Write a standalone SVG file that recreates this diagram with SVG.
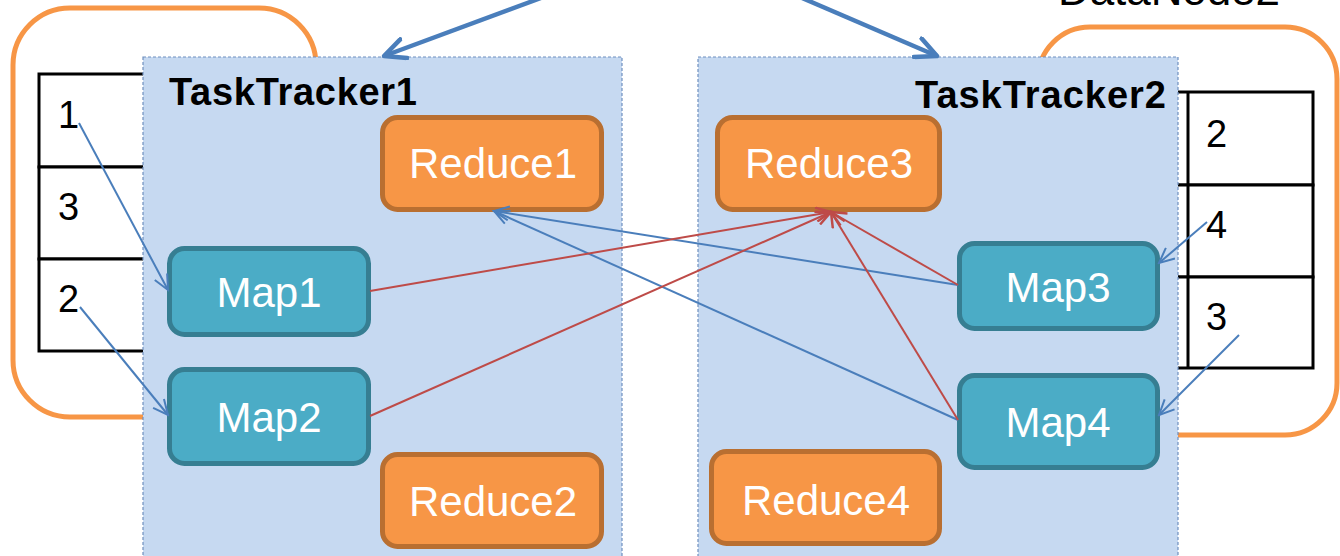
<svg xmlns="http://www.w3.org/2000/svg" width="1340" height="556" viewBox="0 0 1340 556">
  <style>
    .datanode { fill: #ffffff; stroke: #F79646; stroke-width: 5; }
    .cell { fill: #ffffff; stroke: #000000; stroke-width: 3; }
    .num { font-family: "Liberation Sans", Arial, sans-serif; font-size: 38px; fill: #000000; }
    .panel { fill: #C6D9F1; stroke: #6F8FBF; stroke-width: 1.2; stroke-dasharray: 3 2; }
    .tt { font-family: "Liberation Sans", Arial, sans-serif; font-size: 38px; font-weight: bold; fill: #000000; }
    .map rect { fill: #4BACC6; stroke: #367E92; stroke-width: 5; }
    .reduce rect { fill: #F79646; stroke: #B96F31; stroke-width: 5; }
    .label { font-family: "Liberation Sans", Arial, sans-serif; font-size: 42px; fill: #ffffff; text-anchor: middle; }
    .blue { stroke: #4A7EBB; stroke-width: 2; fill: none; marker-end: url(#headBlue); }
    .red { stroke: #BE4B48; stroke-width: 2; fill: none; marker-end: url(#headRed); }
    .thick { stroke: #4A7EBB; stroke-width: 4.5; fill: none; marker-end: url(#headThick); }
    .caption { font-family: "Liberation Sans", Arial, sans-serif; font-size: 44px; fill: #000000; }
  </style>
  <defs>
    <marker id="headBlue" markerUnits="userSpaceOnUse" viewBox="0 0 18 16" refX="16" refY="8" markerWidth="18" markerHeight="16" orient="auto">
      <path d="M1,1 L16,8 L1,15" fill="none" stroke="#4A7EBB" stroke-width="2"/>
    </marker>
    <marker id="headRed" markerUnits="userSpaceOnUse" viewBox="0 0 18 16" refX="16" refY="8" markerWidth="18" markerHeight="16" orient="auto">
      <path d="M1,1 L16,8 L1,15" fill="none" stroke="#BE4B48" stroke-width="2.5"/>
    </marker>
    <marker id="headThick" markerUnits="userSpaceOnUse" viewBox="0 0 26 24" refX="23" refY="12" markerWidth="26" markerHeight="24" orient="auto">
      <path d="M2,2 L23,12 L2,22" fill="none" stroke="#4A7EBB" stroke-width="4.5" stroke-linecap="round" stroke-linejoin="round"/>
    </marker>
  </defs>

  <!-- data node caption, clipped by the top edge -->
  <text class="caption" x="1058" y="5" textLength="222">DataNode2</text>

  <!-- data node 1 with its blocks -->
  <g id="datanode1">
    <rect class="datanode" x="13" y="8" width="303" height="409" rx="57"/>
    <rect class="cell" x="39" y="74" width="130" height="93"/>
    <rect class="cell" x="39" y="167" width="130" height="92"/>
    <rect class="cell" x="39" y="259" width="130" height="92"/>
    <text class="num" x="58" y="128">1</text>
    <text class="num" x="58" y="220">3</text>
    <text class="num" x="58" y="312">2</text>
  </g>

  <!-- data node 2 with its blocks -->
  <g id="datanode2">
    <rect class="datanode" x="1038" y="27" width="299" height="408" rx="52"/>
    <rect class="cell" x="1150" y="92" width="163" height="93"/>
    <rect class="cell" x="1150" y="185" width="163" height="92"/>
    <rect class="cell" x="1150" y="277" width="163" height="91"/>
    <line x1="1188" y1="92" x2="1188" y2="368" stroke="#000" stroke-width="3"/>
    <text class="num" x="1206" y="147">2</text>
    <text class="num" x="1206" y="238">4</text>
    <text class="num" x="1206" y="330">3</text>
  </g>

  <!-- task trackers -->
  <g id="tasktracker1">
    <rect class="panel" x="143" y="57" width="479" height="520"/>
    <text class="tt" x="169" y="105" textLength="248">TaskTracker1</text>
  </g>
  <g id="tasktracker2">
    <rect class="panel" x="698" y="57" width="480" height="520"/>
    <text class="tt" x="915" y="108" textLength="251">TaskTracker2</text>
  </g>

  <!-- tasks -->
  <g id="reduce1" class="reduce">
    <rect x="382.5" y="117.5" width="219" height="92" rx="15"/>
    <text class="label" x="493" y="178">Reduce1</text>
  </g>
  <g id="reduce2" class="reduce">
    <rect x="382.5" y="454.5" width="219" height="92" rx="15"/>
    <text class="label" x="493" y="516">Reduce2</text>
  </g>
  <g id="reduce3" class="reduce">
    <rect x="717.5" y="117.5" width="222" height="92" rx="15"/>
    <text class="label" x="829" y="178">Reduce3</text>
  </g>
  <g id="reduce4" class="reduce">
    <rect x="711.5" y="451.5" width="228" height="92" rx="15"/>
    <text class="label" x="826" y="515">Reduce4</text>
  </g>
  <g id="map1" class="map">
    <rect x="169.5" y="248.5" width="199" height="86" rx="15"/>
    <text class="label" x="269" y="307">Map1</text>
  </g>
  <g id="map2" class="map">
    <rect x="169.5" y="369.5" width="199" height="94" rx="15"/>
    <text class="label" x="269" y="432">Map2</text>
  </g>
  <g id="map3" class="map">
    <rect x="959.5" y="243.5" width="198" height="85" rx="15"/>
    <text class="label" x="1058" y="302">Map3</text>
  </g>
  <g id="map4" class="map">
    <rect x="959.5" y="375.5" width="198" height="92" rx="15"/>
    <text class="label" x="1058" y="437">Map4</text>
  </g>

  <!-- connectors -->
  <g id="connectors">
    <line class="thick" x1="541" y1="-2" x2="384" y2="56"/>
    <line class="thick" x1="802" y1="-2" x2="937" y2="56"/>

    <line class="blue" x1="79" y1="123" x2="168" y2="290"/>
    <line class="blue" x1="80" y1="307" x2="168" y2="415"/>
    <line class="blue" x1="1207" y1="222" x2="1159" y2="263"/>
    <line class="blue" x1="1239" y1="335" x2="1159" y2="415"/>
    <line class="blue" x1="958" y1="285" x2="494" y2="211"/>
    <line class="blue" x1="958" y1="420" x2="494" y2="211"/>

    <line class="red" x1="370" y1="291" x2="831" y2="212"/>
    <line class="red" x1="370" y1="416" x2="831" y2="212"/>
    <line class="red" x1="958" y1="285" x2="831" y2="212"/>
    <line class="red" x1="958" y1="420" x2="831" y2="212"/>
  </g>
</svg>
